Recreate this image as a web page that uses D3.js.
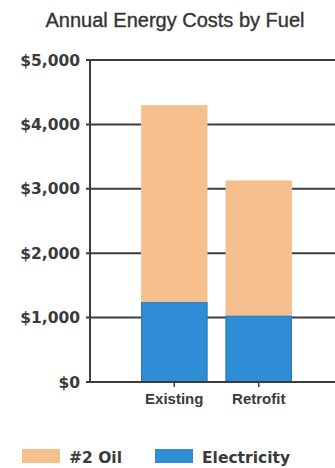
<!DOCTYPE html>
<html>
<head>
<meta charset="utf-8">
<script src="https://cdn.jsdelivr.net/npm/d3@7"></script>
<style>
  html, body { margin: 0; padding: 0; background: #fff; }
  svg { display: block; }
</style>
</head>
<body>
<svg id="chart" width="335" height="468"></svg>
<script>
const categories = ["Existing", "Retrofit"];
const seriesNames = ["Electricity", "#2 Oil"];
const electricity = [1240, 1030];
const oil = [3060, 2100];
const yTicks = [0, 1000, 2000, 3000, 4000, 5000];
const legendItems = ["#2 Oil", "Electricity"];

const colors = { "Electricity": "#2f8dd6", "#2 Oil": "#f6c08e" };

const svg = d3.select("#chart");
const x = d3.scaleBand().domain(categories).range([123, 310]).paddingInner(0.214).paddingOuter(0.214);
const y = d3.scaleLinear().domain([0, 5000]).range([382, 60]);

// title
svg.append("text").attr("x", 175).attr("y", 27).attr("text-anchor", "middle")
  .attr("font-family", "Liberation Sans, Arial, sans-serif").attr("font-size", 20)
  .attr("fill", "#333").attr("stroke", "#333").attr("stroke-width", 0.35)
  .text("Annual Energy Costs by Fuel");

// gridlines
svg.append("g").selectAll("line").data(yTicks).join("line")
  .attr("x1", 86).attr("x2", 335)
  .attr("y1", d => y(d)).attr("y2", d => y(d))
  .attr("stroke", "#3c3c3c").attr("stroke-width", 2);

// y labels
svg.append("g").selectAll("text").data(yTicks).join("text")
  .attr("x", 80).attr("y", d => y(d)).attr("dy", "0.36em")
  .attr("text-anchor", "end")
  .attr("font-family", "DejaVu Sans, Verdana, sans-serif").attr("font-weight", "bold")
  .attr("font-size", 15.5).attr("fill", "#3a3a3a")
  .text(d => d3.format("$,")(d));

// stacked bars
const table = categories.map((c, i) => ({ cat: c, "Electricity": electricity[i], "#2 Oil": oil[i] }));
const stack = d3.stack().keys(seriesNames)(table);
svg.append("g").selectAll("g").data(stack).join("g")
  .attr("fill", d => colors[d.key])
  .selectAll("rect").data(d => d).join("rect")
  .attr("x", d => x(d.data.cat)).attr("width", x.bandwidth())
  .attr("y", d => y(d[1])).attr("height", d => y(d[0]) - y(d[1]));

// thin darker outline on electricity segments
svg.append("g").selectAll("rect").data(stack[0]).join("rect")
  .attr("x", d => x(d.data.cat) + 0.5).attr("width", x.bandwidth() - 1)
  .attr("y", d => y(d[1]) + 0.5).attr("height", d => y(d[0]) - y(d[1]) - 1)
  .attr("fill", "none").attr("stroke", "#2a78bd").attr("stroke-width", 1);

// baseline & y axis line
svg.append("line").attr("x1", 86).attr("x2", 335).attr("y1", y(0)).attr("y2", y(0))
  .attr("stroke", "#3c3c3c").attr("stroke-width", 2);
svg.append("line").attr("x1", 90).attr("x2", 90).attr("y1", y(5000)).attr("y2", y(0))
  .attr("stroke", "#3c3c3c").attr("stroke-width", 2);

// x ticks & labels
svg.append("g").selectAll("line").data(categories).join("line")
  .attr("x1", d => x(d) + x.bandwidth() / 2).attr("x2", d => x(d) + x.bandwidth() / 2)
  .attr("y1", y(0)).attr("y2", y(0) + 5)
  .attr("stroke", "#3c3c3c").attr("stroke-width", 1.5);
svg.append("g").selectAll("text").data(categories).join("text")
  .attr("x", d => x(d) + x.bandwidth() / 2).attr("y", 404)
  .attr("text-anchor", "middle")
  .attr("font-family", "Liberation Sans, Arial, sans-serif").attr("font-weight", "bold")
  .attr("font-size", 15).attr("fill", "#3a3a3a")
  .text(d => d);

// legend
const legendX = [22, 155];
const lg = svg.append("g").selectAll("g").data(legendItems).join("g")
  .attr("transform", (d, i) => `translate(${legendX[i]},449)`);
lg.append("rect").attr("width", 38).attr("height", 14).attr("fill", d => colors[d]);
lg.append("text").attr("x", 47).attr("y", 13.5)
  .attr("font-family", "DejaVu Sans, Verdana, sans-serif").attr("font-weight", "bold")
  .attr("font-size", 15.5).attr("fill", "#3a3a3a").text(d => d);
</script>
</body>
</html>
